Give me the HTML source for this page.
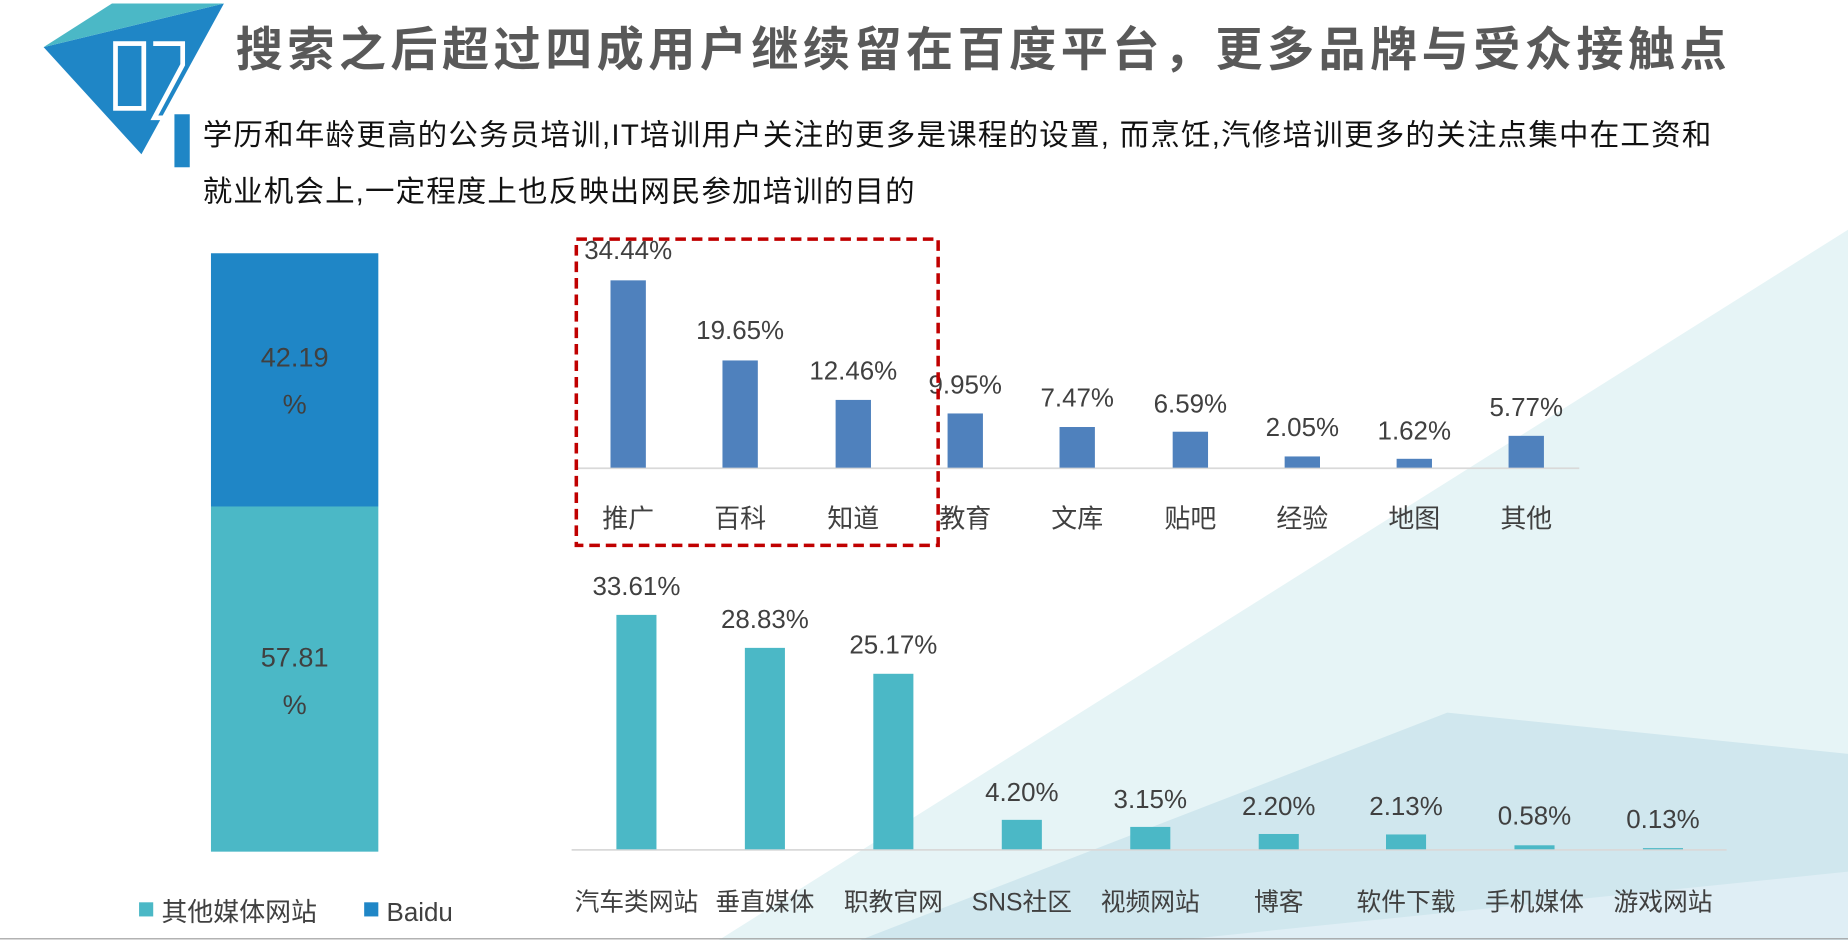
<!DOCTYPE html>
<html><head><meta charset="utf-8"><style>
html,body{margin:0;padding:0;background:#fff;}
svg{display:block;}
text{font-family:"Liberation Sans","Noto Sans CJK SC",sans-serif;}
</style></head><body>
<svg width="1848" height="940" viewBox="0 0 1568 798" preserveAspectRatio="none" xmlns="http://www.w3.org/2000/svg">
<rect width="1568" height="798" fill="#fff"/>
<polygon points="1568,195 1568,798 610,798" fill="#e6f4f6"/>
<polygon points="730,798 1228,605 1568,640 1568,798" fill="#d0e7ee"/>
<polygon points="1000,798 1568,740 1568,798" fill="#dfeef5"/>
<line x1="0" y1="797" x2="1568" y2="797" stroke="#999" stroke-width="1"/>
<!-- logo -->
<polygon points="37,40 190,3 120,131" fill="#1f86c6"/>
<polygon points="37,40 95,3 190,3" fill="#4bb8c6"/>
<rect x="98" y="37" width="24" height="55" fill="none" stroke="#fff" stroke-width="4"/>
<polyline points="130,37 155,37 155,55 131,100 150,100" fill="none" stroke="#fff" stroke-width="4"/>
<rect x="148" y="97" width="13" height="45" fill="#1f86c6"/>
<text x="200" y="56" font-size="40" font-weight="bold" fill="#595959" textLength="1265" lengthAdjust="spacing">搜索之后超过四成用户继续留在百度平台，更多品牌与受众接触点</text>
<text x="172" y="123" font-size="25" fill="#111" textLength="1280" lengthAdjust="spacing">学历和年龄更高的公务员培训,IT培训用户关注的更多是课程的设置, 而烹饪,汽修培训更多的关注点集中在工资和</text>
<text x="172" y="171" font-size="25" fill="#111" textLength="604" lengthAdjust="spacing">就业机会上,一定程度上也反映出网民参加培训的目的</text>
<!-- left stacked -->
<rect x="179" y="215" width="142" height="215" fill="#1f86c6"/>
<rect x="179" y="430" width="142" height="293" fill="#4bb8c6"/>
<g font-size="23" fill="#404040" text-anchor="middle">
<text x="250" y="311">42.19</text><text x="250" y="351">%</text>
<text x="250" y="566">57.81</text><text x="250" y="606">%</text>
</g>
<rect x="118" y="766" width="12" height="12" fill="#4bb8c6"/>
<text x="137" y="782" font-size="22" fill="#404040">其他媒体网站</text>
<rect x="309" y="766" width="12" height="12" fill="#1f86c6"/>
<text x="328" y="782" font-size="22" fill="#404040">Baidu</text>
<!-- top chart -->
<line x1="490" y1="397.5" x2="1340" y2="397.5" stroke="#d9d9d9" stroke-width="1.5"/>
<g fill="#4f81bd">
<rect x="518" y="238" width="30" height="159"/>
<rect x="613" y="306" width="30" height="91"/>
<rect x="709" y="339.5" width="30" height="57.5"/>
<rect x="804" y="351" width="30" height="46"/>
<rect x="899" y="362.5" width="30" height="34.5"/>
<rect x="995" y="366.5" width="30" height="30.5"/>
<rect x="1090" y="387.5" width="30" height="9.5"/>
<rect x="1185" y="389.5" width="30" height="7.5"/>
<rect x="1280" y="370" width="30" height="27"/>
</g>
<g font-size="22" fill="#404040" text-anchor="middle">
<text x="533" y="220">34.44%</text><text x="628" y="288">19.65%</text><text x="724" y="322">12.46%</text>
<text x="819" y="334">9.95%</text><text x="914" y="345">7.47%</text><text x="1010" y="350">6.59%</text>
<text x="1105" y="370">2.05%</text><text x="1200" y="373">1.62%</text><text x="1295" y="353">5.77%</text>
<text x="533" y="448">推广</text><text x="628" y="448">百科</text><text x="724" y="448">知道</text>
<text x="819" y="448">教育</text><text x="914" y="448">文库</text><text x="1010" y="448">贴吧</text>
<text x="1105" y="448">经验</text><text x="1200" y="448">地图</text><text x="1295" y="448">其他</text>
</g>
<rect x="489" y="203" width="307" height="260" fill="none" stroke="#c00000" stroke-width="3" stroke-dasharray="9,5"/>
<!-- bottom chart -->
<line x1="485" y1="721.5" x2="1465" y2="721.5" stroke="#d9d9d9" stroke-width="1.5"/>
<g fill="#4bb8c6">
<rect x="523" y="522" width="34" height="199"/>
<rect x="632" y="550" width="34" height="171"/>
<rect x="741" y="572" width="34" height="149"/>
<rect x="850" y="696" width="34" height="25"/>
<rect x="959" y="702" width="34" height="19"/>
<rect x="1068" y="708" width="34" height="13"/>
<rect x="1176" y="708.4" width="34" height="12.6"/>
<rect x="1285" y="717.6" width="34" height="3.4"/>
<rect x="1394" y="720" width="34" height="1"/>
</g>
<g font-size="22" fill="#404040" text-anchor="middle">
<text x="540" y="505">33.61%</text><text x="649" y="533">28.83%</text><text x="758" y="555">25.17%</text>
<text x="867" y="680">4.20%</text><text x="976" y="686">3.15%</text><text x="1085" y="692">2.20%</text>
<text x="1193" y="692">2.13%</text><text x="1302" y="700">0.58%</text><text x="1411" y="703">0.13%</text>
</g>
<g font-size="21" fill="#404040" text-anchor="middle">
<text x="540" y="773">汽车类网站</text><text x="649" y="773">垂直媒体</text><text x="758" y="773">职教官网</text>
<text x="867" y="773">SNS社区</text><text x="976" y="773">视频网站</text><text x="1085" y="773">博客</text>
<text x="1193" y="773">软件下载</text><text x="1302" y="773">手机媒体</text><text x="1411" y="773">游戏网站</text>
</g>
</svg>
</body></html>
